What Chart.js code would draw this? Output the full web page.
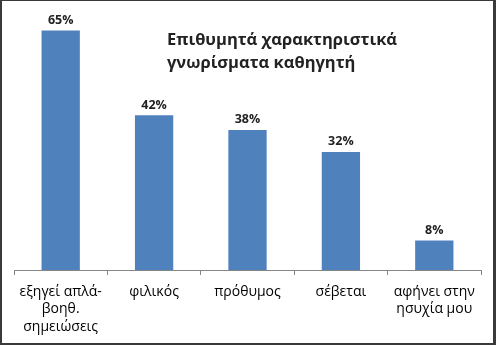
<!DOCTYPE html>
<html>
<head>
<meta charset="utf-8">
<script src="https://cdn.jsdelivr.net/npm/chart.js@4"></script>
<style>
    body { margin: 0; background: #fff; }
    #frame {
        position: relative;
        width: 496px;
        height: 345px;
        box-sizing: border-box;
        border-style: solid;
        border-color: #3a3a3a;
        border-width: 1px 3px 2px 2px;
        background: #fff;
    }
    #chart { display: block; }
</style>
</head>
<body>
<div id="frame">
    <canvas id="chart" width="491" height="342"></canvas>
</div>
<script>
// κατηγορίες και τιμές
const categories = [
    ['εξηγεί απλά-', 'βοηθ.', 'σημειώσεις'],
    'φιλικός',
    'πρόθυμος',
    'σέβεται',
    ['αφήνει στην', 'ησυχία μου']
];
const values = [65, 42, 38, 32, 8];
const titleLines = ['Επιθυμητά χαρακτηριστικά', 'γνωρίσματα καθηγητή'];

const FONT = '"Open Sans", "Noto Sans", sans-serif';

// ετικέτες τιμών πάνω από τις μπάρες και τίτλος μέσα στο γράφημα
const labelsPlugin = {
    id: 'labels',
    afterDatasetsDraw(chart) {
        const ctx = chart.ctx;
        const meta = chart.getDatasetMeta(0);
        ctx.save();
        ctx.fillStyle = '#222';
        ctx.font = 'bold 12.5px ' + FONT;
        ctx.textAlign = 'center';
        ctx.textBaseline = 'bottom';
        meta.data.forEach((bar, i) => {
            ctx.fillText(values[i] + '%', bar.x, bar.y - 4);
        });

        ctx.font = 'bold 16.5px ' + FONT;
        ctx.textAlign = 'left';
        ctx.textBaseline = 'middle';
        titleLines.forEach((line, i) => {
            ctx.fillText(line, 165, 39 + i * 23);
        });
        ctx.restore();
    }
};

new Chart(document.getElementById('chart'), {
    type: 'bar',
    data: {
        labels: categories,
        datasets: [{
            data: values,
            backgroundColor: '#4F81BD',
            barPercentage: 0.41,
            categoryPercentage: 1
        }]
    },
    options: {
        responsive: false,
        animation: false,
        layout: { padding: { top: 11, left: 12, right: 12, bottom: 0 } },
        plugins: {
            legend: { display: false },
            tooltip: { enabled: false }
        },
        scales: {
            x: {
                grid: {
                    drawOnChartArea: false,
                    tickLength: 5,
                    color: '#868686'
                },
                border: { color: '#868686' },
                ticks: {
                    color: '#000',
                    padding: 8,
                    maxRotation: 0,
                    autoSkip: false,
                    font: { family: FONT, size: 14, lineHeight: 1.25 }
                },
                afterFit(scale) { scale.height = 73; }
            },
            y: {
                display: false,
                min: 0,
                max: 70
            }
        }
    },
    plugins: [labelsPlugin]
});
</script>
</body>
</html>
